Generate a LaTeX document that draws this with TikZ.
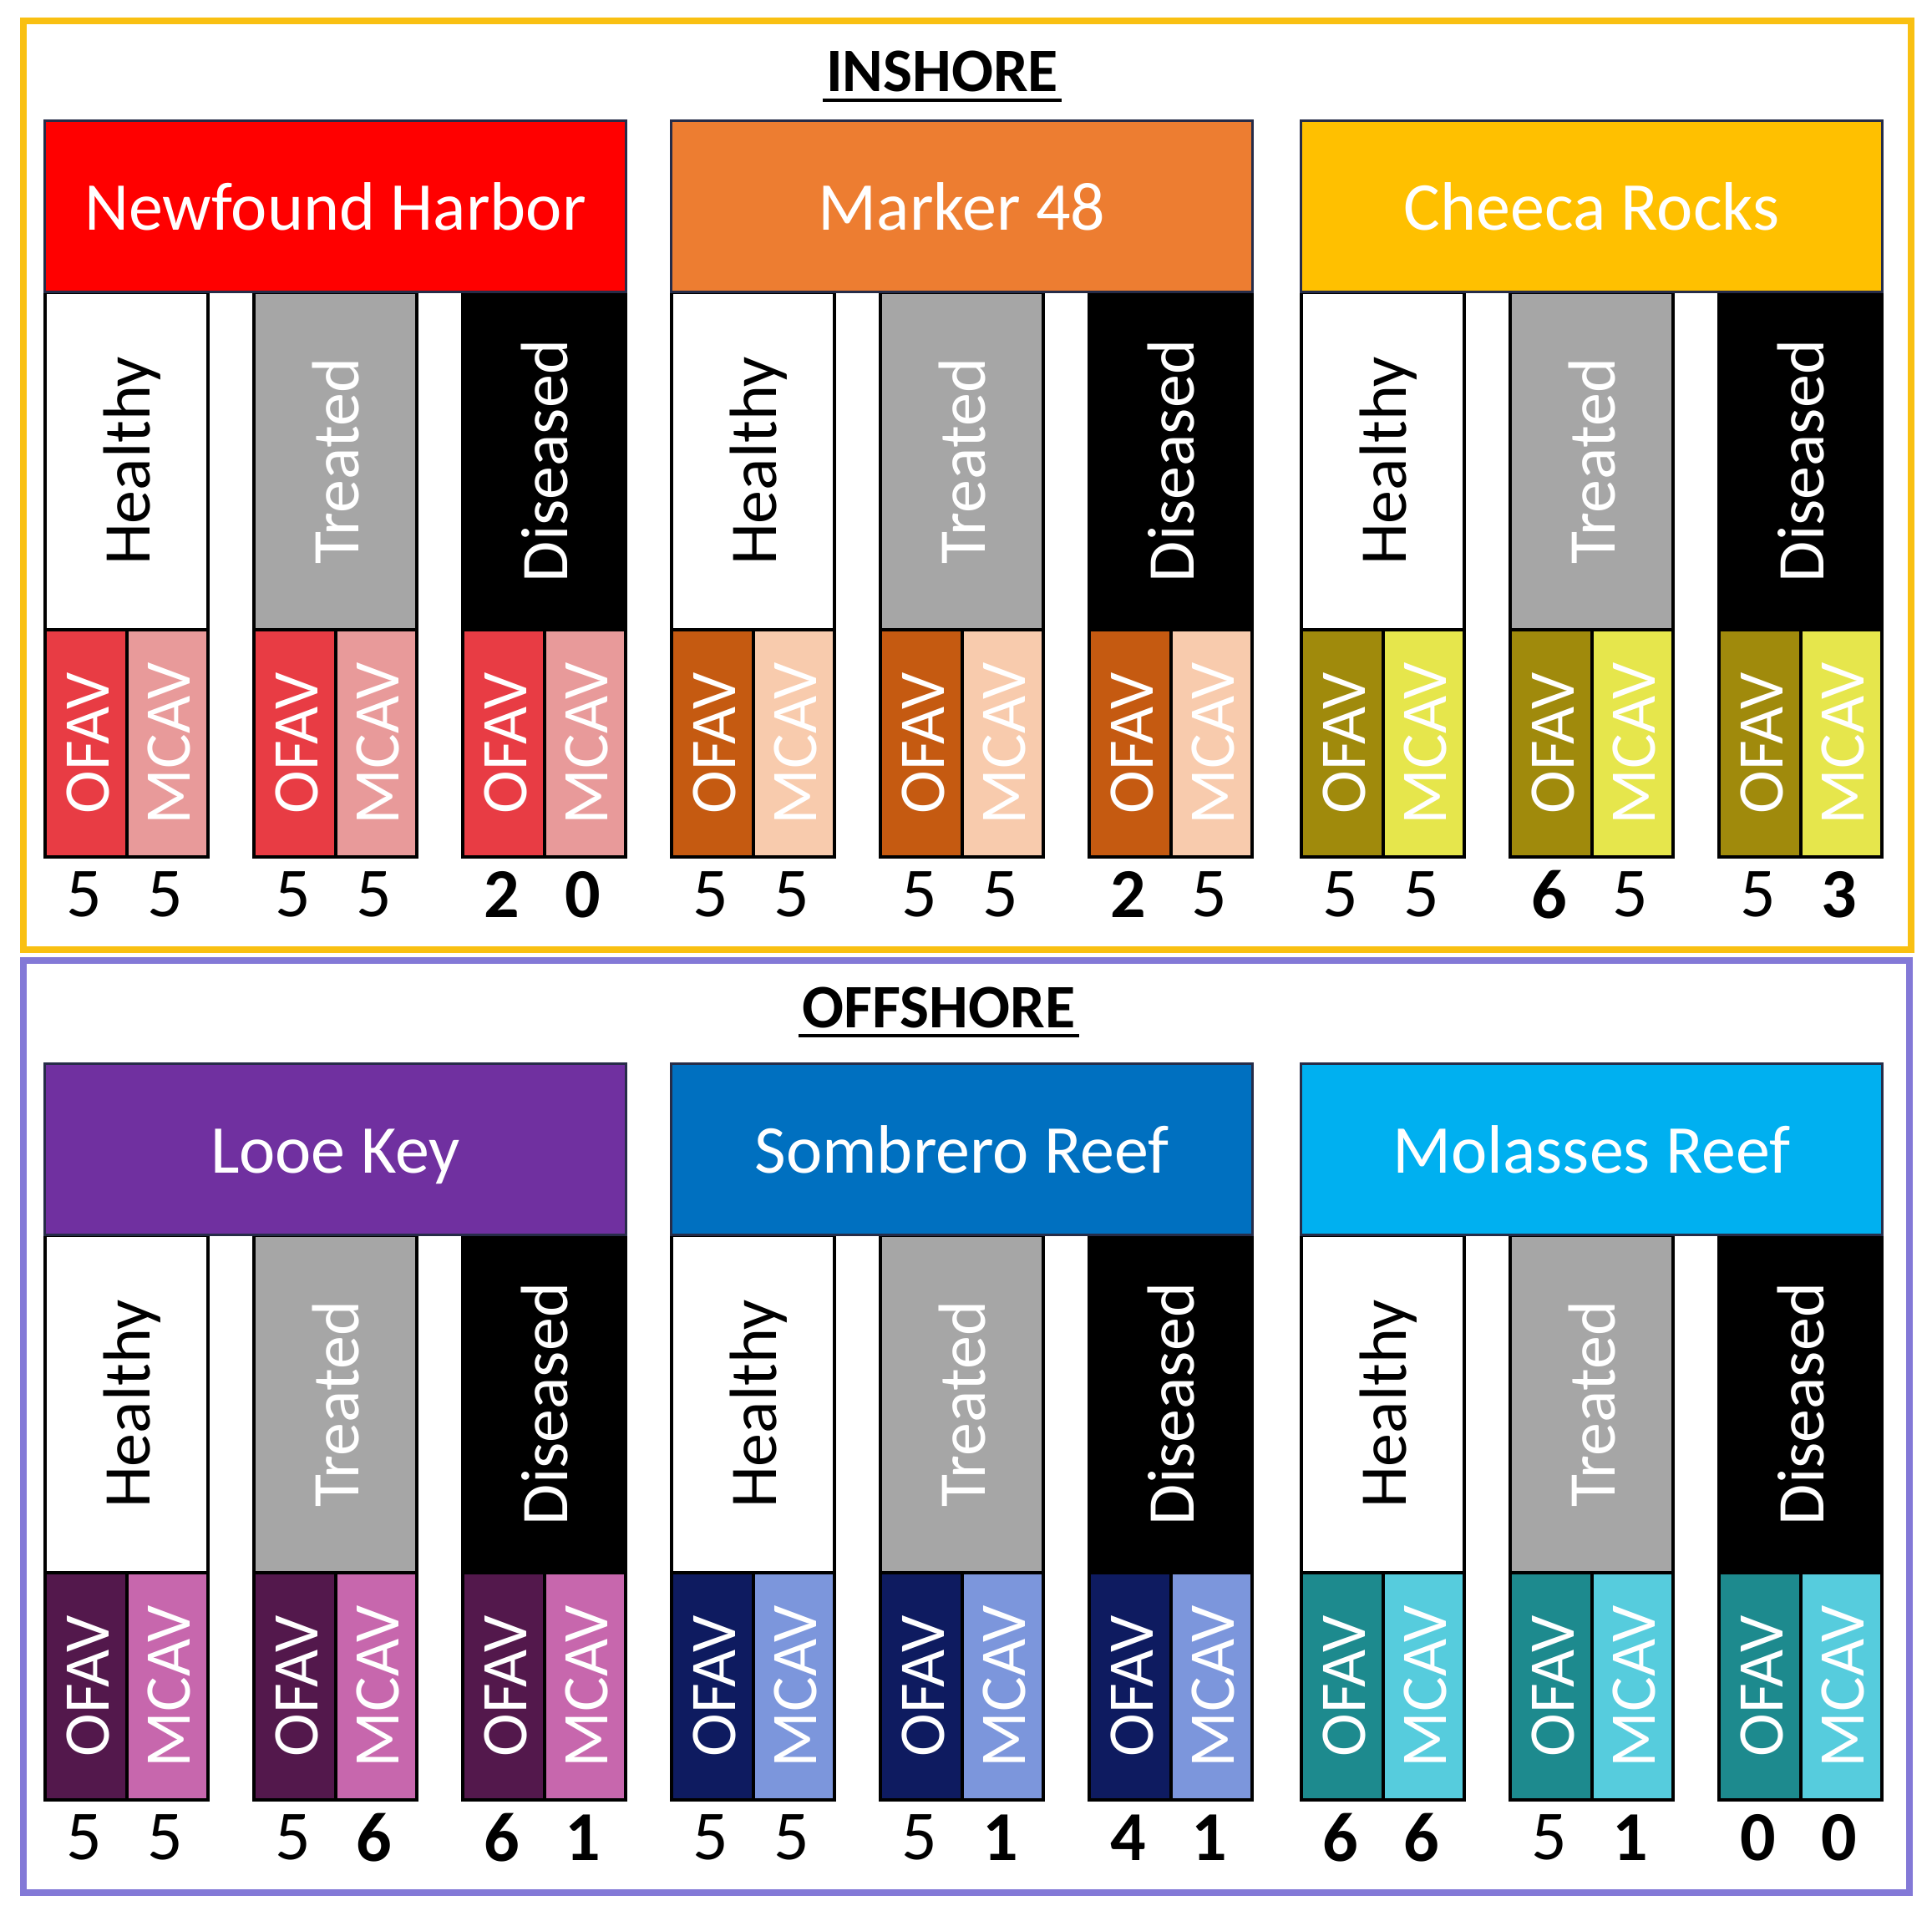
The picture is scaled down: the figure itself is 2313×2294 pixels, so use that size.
\documentclass[tikz,border=0pt]{standalone}
\usepackage{graphicx}
\usepackage{fontspec}
\setmainfont{Carlito}
\definecolor{ybord}{RGB}{249,192,18}
\definecolor{pbord}{RGB}{131,121,215}
\definecolor{hline}{RGB}{38,44,72}
\definecolor{treat}{RGB}{166,166,166}
\definecolor{nfh}{RGB}{255,0,0}
\definecolor{mk}{RGB}{237,125,49}
\definecolor{cr}{RGB}{255,192,0}
\definecolor{lk}{RGB}{112,48,160}
\definecolor{sr}{RGB}{0,112,192}
\definecolor{mr}{RGB}{0,176,240}
\definecolor{nfhO}{RGB}{232,60,68}
\definecolor{nfhM}{RGB}{232,154,154}
\definecolor{mkO}{RGB}{197,90,17}
\definecolor{mkM}{RGB}{248,203,173}
\definecolor{crO}{RGB}{160,138,12}
\definecolor{crM}{RGB}{230,230,76}
\definecolor{lkO}{RGB}{83,24,76}
\definecolor{lkM}{RGB}{199,103,173}
\definecolor{srO}{RGB}{14,27,96}
\definecolor{srM}{RGB}{124,150,220}
\definecolor{mrO}{RGB}{29,138,142}
\definecolor{mrM}{RGB}{86,204,221}
\newcommand\vlbl[1]{\rotatebox{90}{\rule[-0.15em]{0pt}{1.0em}#1}}
\newcommand\hlbl[1]{\rule[-0.15em]{0pt}{1.0em}#1}
\tikzset{
 hdrbox/.style={draw=hline, line width=1.5pt, minimum width=348pt, minimum height=102.5pt, inner sep=0pt, text=white, font=\fontsize{41}{49}\selectfont},
 condbox/.style={draw=black, line width=2pt, minimum width=97.5pt, minimum height=202pt, inner sep=0pt, font=\fontsize{40}{48}\selectfont},
 spbox/.style={draw=black, line width=2pt, minimum width=48.75pt, minimum height=136pt, inner sep=0pt, text=white, font=\fontsize{39}{47}\selectfont},
 numlbl/.style={inner sep=0pt, font=\fontsize{42}{50}\selectfont},
 zonelbl/.style={inner sep=0pt, font=\fontsize{37}{44}\selectfont\bfseries},
 frameline/.style={line width=4pt},
}
% #1 id, #2 x0, #3 dy, #4 header colour, #5 name, #6 OFAV colour, #7 MCAV colour
\newcommand\site[7]{%
 \foreach \cc/\cx/\cf/\ct/\cl in {h/0/white/black/Healthy, t/250/treat/white/Treated, d/500/black/white/Diseased}{
  \node[condbox, fill=\cf, text=\ct, anchor=north west] (#1-\cc) at (#2+\cx,#3+348) {\vlbl{\cl}};
  \node[spbox, fill=#6, anchor=north west] (#1-\cc-o) at (#2+\cx,#3+752) {\vlbl{OFAV}};
  \node[spbox, fill=#7, anchor=north west] (#1-\cc-m) at (#2+\cx+97.5,#3+752) {\vlbl{MCAV}};
 }
 \node[hdrbox, fill=#4, anchor=north west] (#1-hd) at (#2,#3+143) {\hlbl{#5}};
}
\newcommand\nums[9]{%
 \node[numlbl] (#1-n1) at (#2+48.75,#3+1071) {#4};
 \node[numlbl] (#1-n2) at (#2+146.25,#3+1071) {#5};
 \node[numlbl] (#1-n3) at (#2+298.75,#3+1071) {#6};
 \node[numlbl] (#1-n4) at (#2+396.25,#3+1071) {#7};
 \node[numlbl] (#1-n5) at (#2+548.75,#3+1071) {#8};
 \node[numlbl] (#1-n6) at (#2+646.25,#3+1071) {#9};
}
\begin{document}
\begin{tikzpicture}[x=0.5pt,y=-0.5pt]
\useasboundingbox (0,0) rectangle (2313,2294);
\fill[white] (0,0) rectangle (2313,2294);
\draw[frameline, ybord] (28,25.5) rectangle (2288,1137);
\draw[frameline, pbord] (28,1150) rectangle (2286,2266);
\node[zonelbl, anchor=base] (inshore) at (1128,110) {INSHORE};
\draw[line width=2.3pt] ([yshift=-5pt,xshift=-2pt]inshore.base west) -- ([yshift=-5pt,xshift=2pt]inshore.base east);
\node[zonelbl, anchor=base] (offshore) at (1124,1230) {OFFSHORE};
\draw[line width=2.3pt] ([yshift=-5pt,xshift=-2pt]offshore.base west) -- ([yshift=-5pt,xshift=2pt]offshore.base east);
\site{nf}{52}{0}{nfh}{Newfound Harbor}{nfhO}{nfhM}
\site{mk}{802}{0}{mk}{Marker 48}{mkO}{mkM}
\site{cr}{1556}{0}{cr}{Cheeca Rocks}{crO}{crM}
\site{lk}{52}{1129}{lk}{Looe Key}{lkO}{lkM}
\site{sr}{802}{1129}{sr}{Sombrero Reef}{srO}{srM}
\site{mr}{1556}{1129}{mr}{Molasses Reef}{mrO}{mrM}
\nums{nf}{52}{0}{5}{5}{5}{5}{\textbf{2}}{\textbf{0}}
\nums{mk}{802}{0}{5}{5}{5}{5}{\textbf{2}}{5}
\nums{cr}{1556}{0}{5}{5}{\textbf{6}}{5}{5}{\textbf{3}}
\nums{lk}{52}{1129}{5}{5}{5}{\textbf{6}}{\textbf{6}}{\textbf{1}}
\nums{sr}{802}{1129}{5}{5}{5}{\textbf{1}}{\textbf{4}}{\textbf{1}}
\nums{mr}{1556}{1129}{\textbf{6}}{\textbf{6}}{5}{\textbf{1}}{\textbf{0}}{\textbf{0}}
\end{tikzpicture}
\end{document}
